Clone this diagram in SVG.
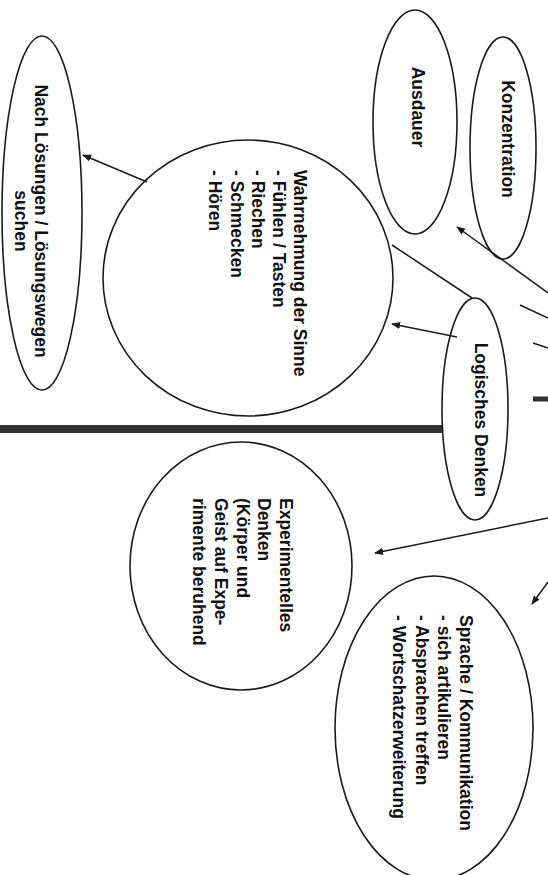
<svg xmlns="http://www.w3.org/2000/svg" width="548" height="875" viewBox="0 0 548 875">
<style>
.n{fill:none;stroke:#1a1a1a;stroke-width:1.6}
.t{font-family:"Liberation Sans",Arial,sans-serif;font-weight:bold;font-size:17.5px;fill:#111}
.m{text-anchor:middle}
.c{stroke:#1a1a1a;stroke-width:1.5;fill:none}
.b{stroke:#333;fill:none}
</style>
<defs>
<marker id="a" viewBox="0 0 10 10" refX="9" refY="5" markerWidth="9" markerHeight="9" markerUnits="userSpaceOnUse" orient="auto"><path d="M0,1 L10,5 L0,9 z" fill="#1a1a1a"/></marker>
</defs>
<rect width="548" height="875" fill="#fff"/>
<g transform="translate(548,0) rotate(90)">
<g id="connectors">
<line class="c" x1="293" y1="0" x2="227" y2="91" marker-end="url(#a)"/>
<line class="c" x1="318" y1="0" x2="305" y2="28"/>
<line class="c" x1="348" y1="0" x2="343" y2="15"/>
<line class="c" x1="245" y1="156" x2="298" y2="76"/>
<line class="c" x1="337" y1="91" x2="324" y2="156" marker-end="url(#a)"/>
<line class="c" x1="182" y1="401" x2="155" y2="465" marker-end="url(#a)"/>
<line class="c" x1="518" y1="0" x2="553" y2="173" marker-end="url(#a)"/>
<line class="c" x1="582" y1="0" x2="604" y2="16" marker-end="url(#a)"/>
<line class="b" x1="429" y1="105" x2="429" y2="548" stroke-width="8"/>
<line class="b" x1="399" y1="0" x2="399" y2="15" stroke-width="5"/>
</g>
<g id="konzentration">
<ellipse class="n" cx="148" cy="45" rx="111" ry="33"/>
<text class="t m" x="139" y="46">Konzentration</text>
</g>
<g id="ausdauer">
<ellipse class="n" cx="122" cy="133" rx="112" ry="42"/>
<text class="t m" x="107" y="136">Ausdauer</text>
</g>
<g id="logisches-denken">
<ellipse class="n" cx="409" cy="73" rx="111" ry="33"/>
<text class="t m" x="420" y="73">Logisches Denken</text>
</g>
<g id="wahrnehmung">
<ellipse class="n" cx="278" cy="300" rx="138" ry="145"/>
<text class="t" x="170" y="254">Wahrnehmung der Sinne</text>
<text class="t" x="170" y="275">- Fühlen / Tasten</text>
<text class="t" x="170" y="296">- Riechen</text>
<text class="t" x="170" y="317">- Schmecken</text>
<text class="t" x="170" y="339">- Hören</text>
</g>
<g id="loesungen">
<ellipse class="n" cx="213" cy="506" rx="177" ry="40"/>
<text class="t m" x="221" y="513">Nach Lösungen / Lösungswegen</text>
<text class="t m" x="221" y="533">suchen</text>
</g>
<g id="experimentelles">
<ellipse class="n" cx="566" cy="307" rx="124" ry="111"/>
<text class="t" x="498" y="268">Experimentelles</text>
<text class="t" x="498" y="290">Denken</text>
<text class="t" x="498" y="311">(Körper und</text>
<text class="t" x="498" y="333">Geist auf Expe-</text>
<text class="t" x="498" y="355">rimente beruhend</text>
</g>
<g id="sprache">
<ellipse class="n" cx="728" cy="114" rx="152" ry="99"/>
<text class="t" x="615" y="88">Sprache / Kommunikation</text>
<text class="t" x="615" y="110">- sich artikulieren</text>
<text class="t" x="615" y="132">- Absprachen treffen</text>
<text class="t" x="615" y="155">- Wortschatzerweiterung</text>
</g>
</g>
</svg>
